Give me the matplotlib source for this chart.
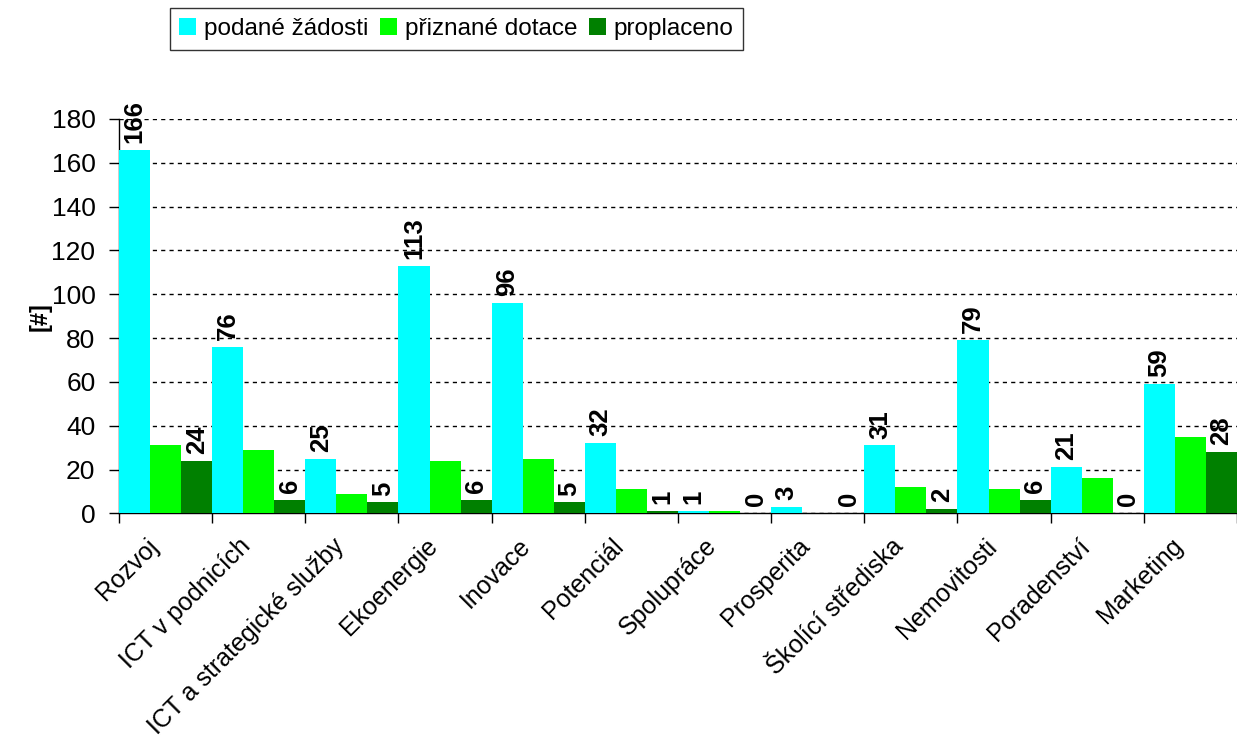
import matplotlib
matplotlib.use('Agg')
import matplotlib.pyplot as plt
from matplotlib.transforms import ScaledTranslation
import numpy as np

plt.rcParams['font.family'] = ['Liberation Sans', 'DejaVu Sans']

categories = ['Rozvoj', 'ICT v podnicích', 'ICT a strategické služby', 'Ekoenergie',
              'Inovace', 'Potenciál', 'Spolupráce', 'Prosperita', 'Školící střediska',
              'Nemovitosti', 'Poradenství', 'Marketing']
podane = [166, 76, 25, 113, 96, 32, 1, 3, 31, 79, 21, 59]
priznane = [31, 29, 9, 24, 25, 11, 1, 0, 12, 11, 16, 35]
proplaceno = [24, 6, 5, 6, 5, 1, 0, 0, 2, 6, 0, 28]

series = [('podané žádosti', podane, '#00FFFF'),
          ('přiznané dotace', priznane, '#00FF00'),
          ('proplaceno', proplaceno, '#008000')]

fig = plt.figure(figsize=(12.37, 7.43), dpi=100)
ax = fig.add_axes([0.0962, 0.309, 0.9038, 0.531])

n = len(categories)
x = np.arange(n)
w = 1 / 3
bars = []
for k, (name, vals, col) in enumerate(series):
    b = ax.bar(x + w * k + w / 2, vals, width=w, color=col, label=name, zorder=3)
    bars.append(b)

# value labels only on first and last series
for b, vals in [(bars[0], podane), (bars[2], proplaceno)]:
    for rect, v in zip(b, vals):
        ax.annotate(str(v), (rect.get_x() + rect.get_width() / 2, v),
                    xytext=(0, 5), textcoords='offset points',
                    ha='center', va='bottom', rotation=90,
                    fontsize=18.5, fontweight='bold', clip_on=False, zorder=4)

ax.set_xlim(0, n)
ax.set_ylim(0, 180)
ax.set_yticks(np.arange(0, 181, 20))
ax.yaxis.grid(True, linestyle=(0, (3, 3)), color='black', linewidth=1, zorder=1)
ax.tick_params(axis='y', labelsize=19, length=7, width=1, direction='out', pad=10)

ax.set_xticks(x + 0.5)
ax.set_xticklabels(categories, rotation=45, ha='right', rotation_mode='anchor', fontsize=18)
ax.tick_params(axis='x', which='major', length=0, pad=12)
ax.set_xticks(np.arange(0, n + 1), minor=True)
ax.tick_params(axis='x', which='minor', length=7, width=1, direction='out')
shift = ScaledTranslation(-0.2, -0.04, fig.dpi_scale_trans)
for lab in ax.get_xticklabels():
    lab.set_transform(lab.get_transform() + shift)

for s in ['top', 'right']:
    ax.spines[s].set_visible(False)
ax.spines['left'].set_linewidth(1)
ax.spines['bottom'].set_linewidth(1)

ax.set_ylabel('[#]', fontsize=17, fontweight='bold', labelpad=0)

leg = fig.legend(loc='center', bbox_to_anchor=(0.369, 0.961), ncol=3, fontsize=17.5,
                 frameon=True, fancybox=False, edgecolor='black', handlelength=0.7,
                 handleheight=0.7, handletextpad=0.3, columnspacing=0.5, borderpad=0.4)
leg.get_frame().set_linewidth(1)

fig.savefig('out.png', dpi=100)
